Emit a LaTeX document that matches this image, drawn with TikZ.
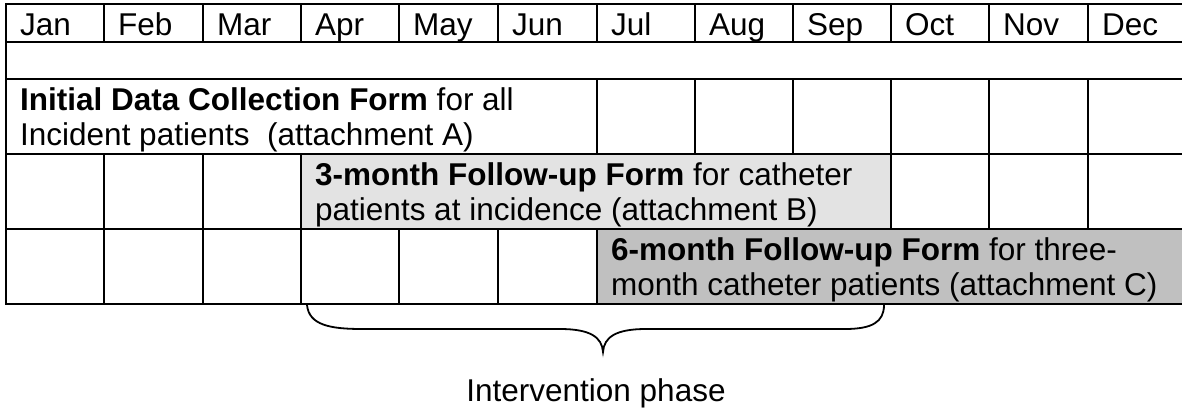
\documentclass[tikz,border=0pt]{standalone}
\usepackage{fontspec}
\setmainfont{Liberation Sans}
\definecolor{lightfill}{HTML}{E3E3E3}
\definecolor{darkfill}{HTML}{C0C0C0}
\begin{document}
\begin{tikzpicture}[x=1pt,y=-1pt,
  grid/.style={line width=2pt,black},
  txt/.style={anchor=base west,inner sep=0pt,font=\fontsize{31.5}{36}\selectfont},
  bracestyle/.style={line width=1.8pt,black}]
\useasboundingbox (0,0) rectangle (1182,408);
% fills
\fill[lightfill] (301,154) rectangle (891,229);
\fill[darkfill] (597,229) rectangle (1192,304);
% horizontal lines
\foreach \y in {4,42,79,154,229,304} \draw[grid] (5,\y) -- (1192,\y);
\draw[grid] (6,3) -- (6,305);
% row 1 verticals
\foreach \x in {104,203,301,399,498,597,695,793,891,989,1088} \draw[grid] (\x,4) -- (\x,42);
% row 3 verticals
\foreach \x in {597,695,793,891,989,1088} \draw[grid] (\x,79) -- (\x,154);
% row 4 verticals
\foreach \x in {104,203,301,891,989,1088} \draw[grid] (\x,154) -- (\x,229);
% row 5 verticals
\foreach \x in {104,203,301,399,498,597} \draw[grid] (\x,229) -- (\x,304);
% month headers
\foreach \x/\m in {6/Jan,104/Feb,203/Mar,301/Apr,399/May,498/Jun,597/Jul,695/Aug,793/Sep,891/Oct,989/Nov,1088/Dec}
  \node[txt] (m\m) at (\x+14,35) {\m};
% row 3
\node[txt] (a1) at (20,110) {\textbf{Initial Data Collection Form} for all};
\node[txt] (a2) at (20,145) {Incident patients\ \ (attachment A)};
% row 4
\node[txt] (b1) at (315,185) {\textbf{3-month Follow-up Form} for catheter};
\node[txt] (b2) at (315,220) {patients at incidence (attachment B)};
% row 5
\node[txt] (c1) at (611,260) {\textbf{6-month Follow-up Form} for three-};
\node[txt] (c2) at (611,295) {month catheter patients (attachment C)};
% brace
\coordinate (bl) at (307,305);
\coordinate (bt) at (603,352);
\coordinate (br) at (884,305);
\draw[bracestyle] (bl) .. controls (309,325) and (330,329) .. (362,329)
  -- (560,329) .. controls (590,329) and (602,337) .. (bt)
  .. controls (604,337) and (616,329) .. (646,329)
  -- (845,329) .. controls (872,329) and (884,322) .. (br);
\node[anchor=base,inner sep=0pt,font=\fontsize{31.5}{36}\selectfont] (phase) at (596,401) {Intervention phase};
\end{tikzpicture}
\end{document}
